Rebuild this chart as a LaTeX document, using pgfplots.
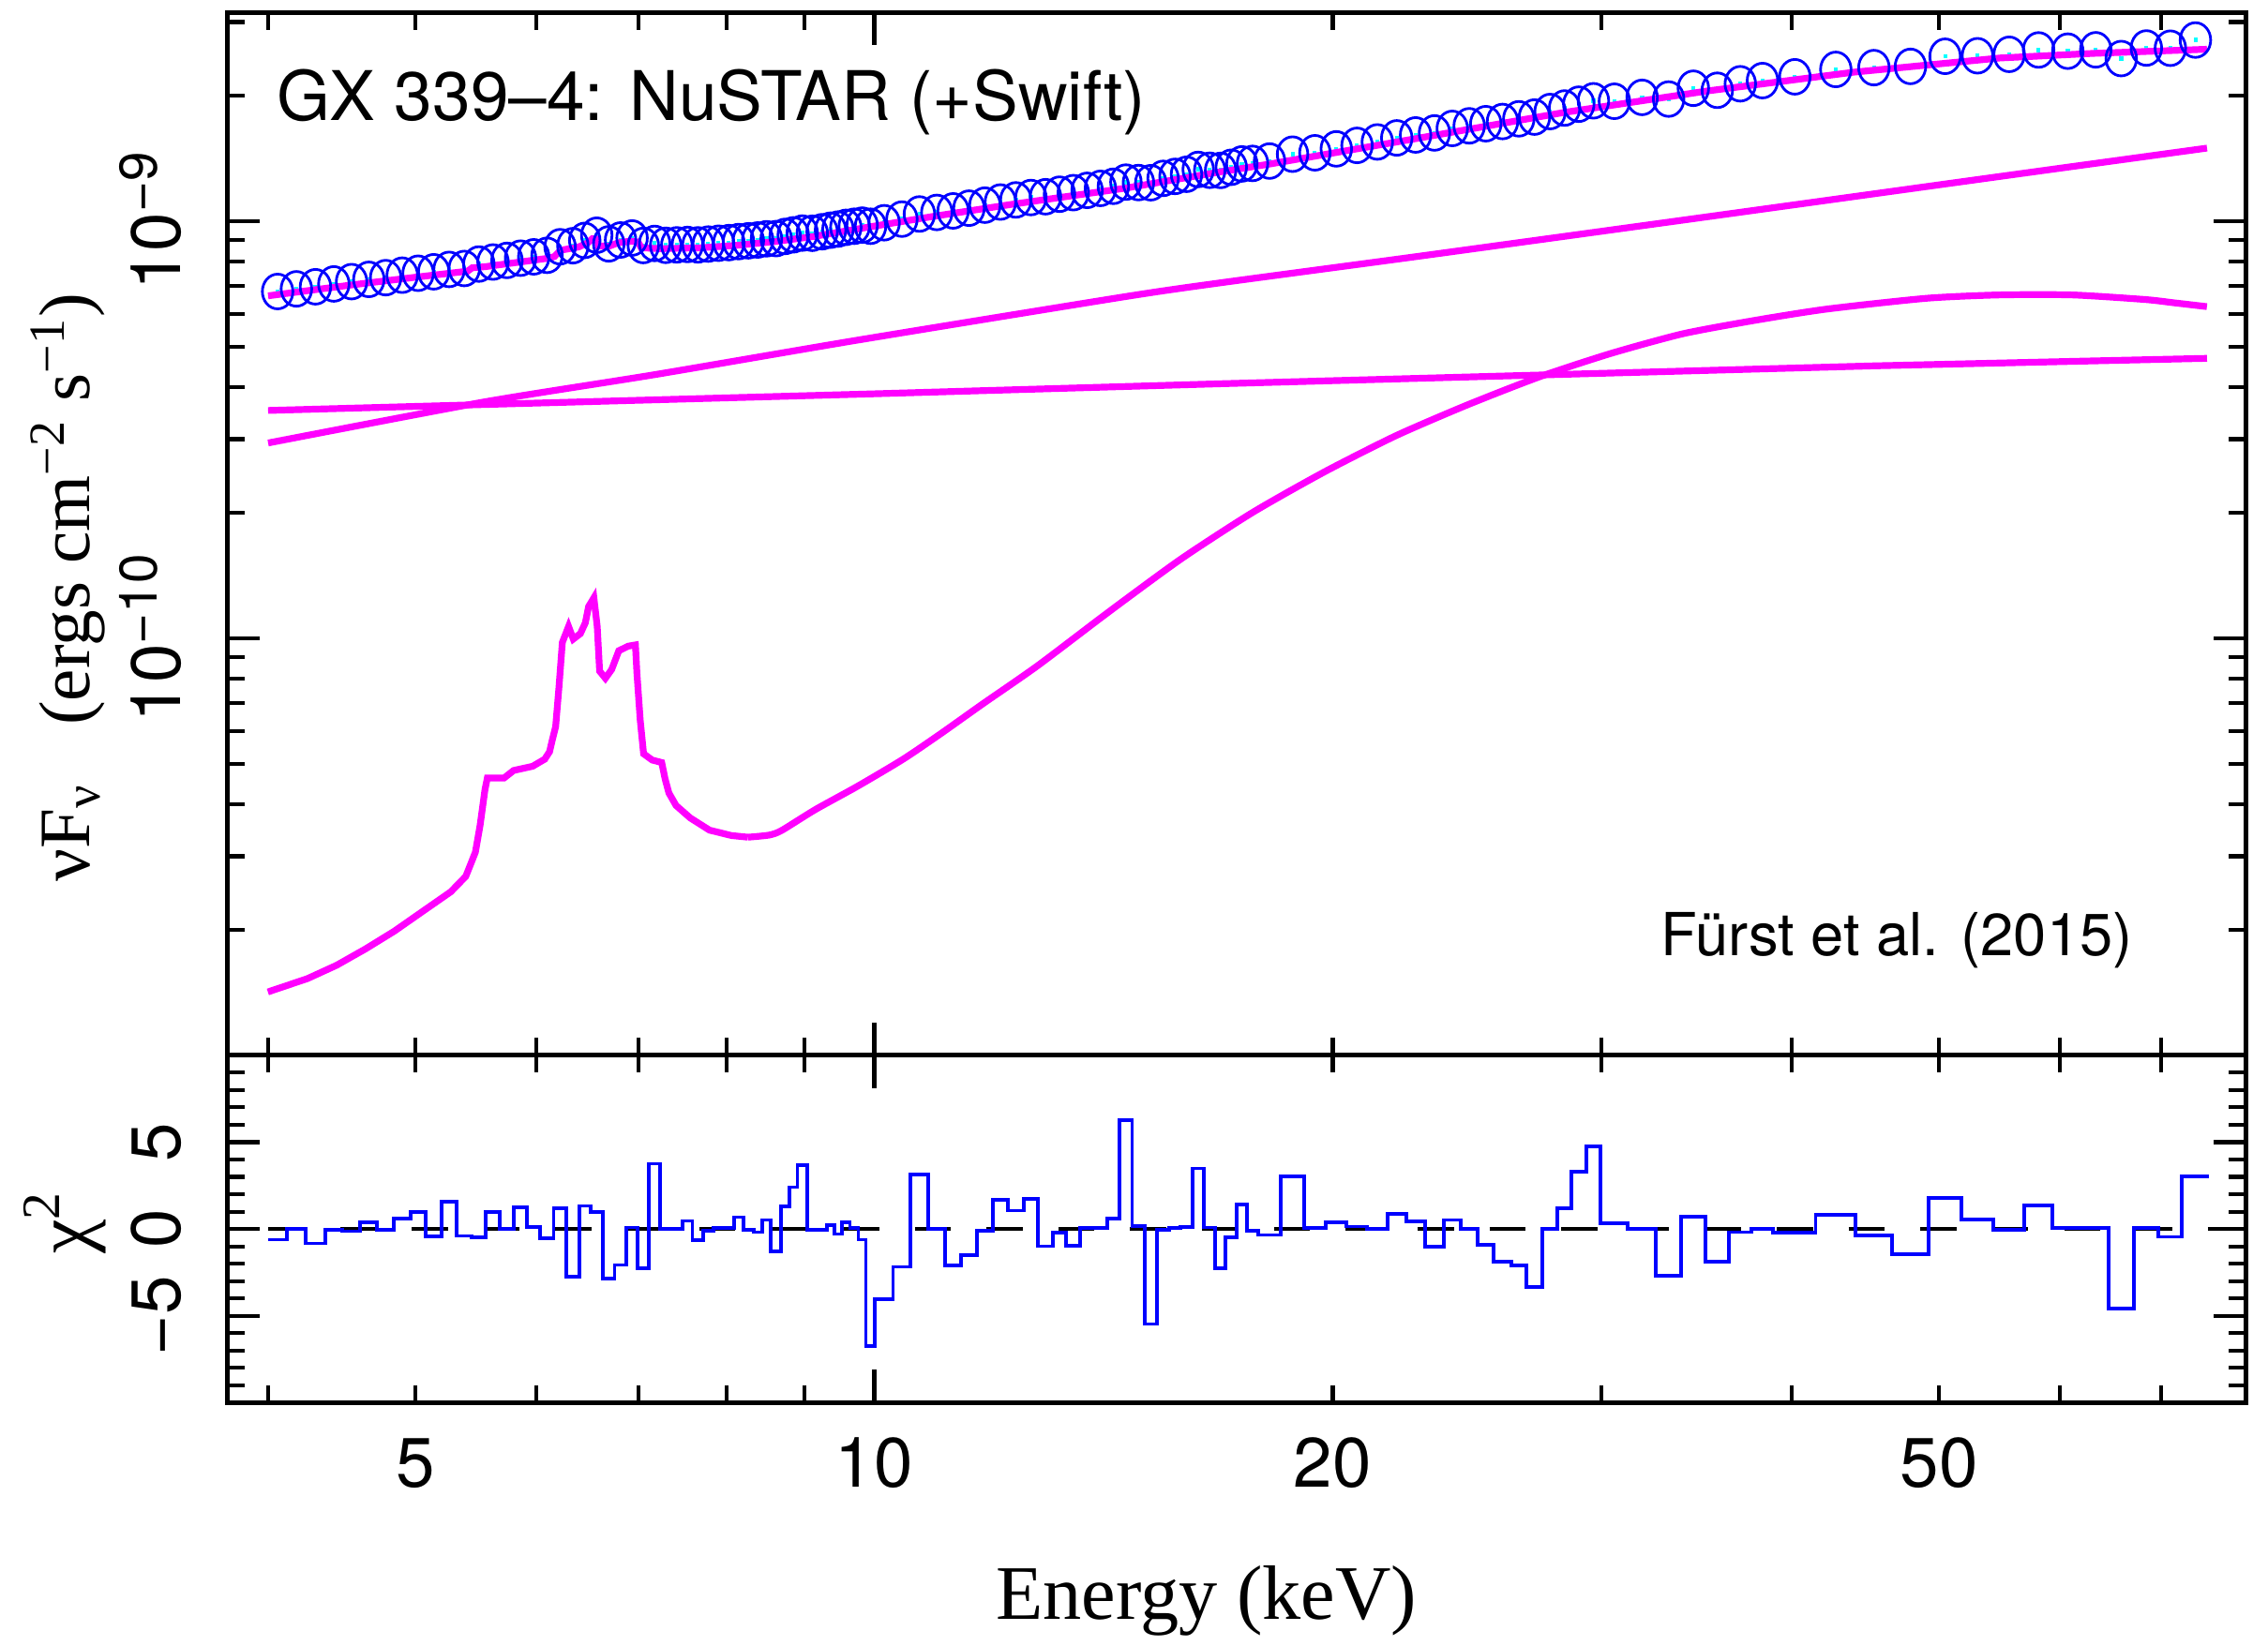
\documentclass[border=0pt]{standalone}
\usepackage{fontspec}
\setmainfont{TeX Gyre Heros}
\newfontfamily\timesfont{Liberation Serif}
\usepackage{pgfplots}
\pgfplotsset{compat=1.18}
\definecolor{mag}{rgb}{1,0,1}
\definecolor{blu}{rgb}{0,0,1}
\definecolor{cya}{rgb}{0,1,1}
\newcommand{\sci}[1]{10\raisebox{5pt}{\fontsize{11}{12}\selectfont −#1}}
\begin{document}
\begin{tikzpicture}
% ---------------- lower panel: residuals ----------------
\begin{axis}[at={(0,0)}, anchor=south west, scale only axis, width=418.8pt, height=72.06pt,
  xmode=log, xmin=3.76, xmax=79.6,
  tick align=inside, major tick length=6.8pt, minor tick length=3.6pt,
  every tick/.style={black, line width=0.8pt},
  axis line style={line width=1pt},
  xtick={10}, minor xtick={4,5,6,7,8,9,20,30,40,50,60,70},
  tick label style={font=\fontsize{14.5}{16}\selectfont},
  yticklabel style={xshift=-9.6pt, rotate=90, anchor=base},
  ymin=-10, ymax=10, ytick={-10,-5,0,5,10}, yticklabels={,−5,0,5,},
  minor y tick num=4,
  xticklabels={},
  extra x ticks={5,10,20,50}, extra x tick labels={5,10,20,50},
  extra x tick style={major tick length=0pt},
  xticklabel style={anchor=base, yshift=-17.5pt},
]
\addplot[black, line width=0.8pt, dash pattern=on 7.5pt off 7.4pt] coordinates {(4,0) (79.6,0)};
\addplot[const plot, blu, line width=0.75pt] coordinates {
(4.000,-0.61) (4.116,0.00) (4.234,-0.83) (4.359,-0.04) (4.476,-0.13) (4.599,0.38) (4.717,-0.04) (4.838,0.58) (4.959,0.99) (5.076,-0.43) (5.199,1.55) (5.319,-0.40) (5.442,-0.50) (5.560,0.99) (5.680,0.00) (5.800,1.24) (5.918,0.13) (6.036,-0.54) (6.159,1.21) (6.281,-2.73) (6.401,1.33) (6.511,0.97) (6.636,-2.86) (6.754,-2.07) (6.875,0.09) (6.994,-2.25) (7.114,3.76) (7.237,0.00) (7.356,0.00) (7.483,0.47) (7.598,-0.65) (7.723,-0.11) (7.841,0.04) (7.966,0.04) (8.088,0.68) (8.202,-0.04) (8.332,-0.18) (8.438,0.52) (8.556,-1.31) (8.687,1.29) (8.792,2.41) (8.904,3.67) (9.034,-0.04) (9.178,-0.04) (9.306,0.22) (9.413,-0.29) (9.520,0.38) (9.640,0.04) (9.763,-0.61) (9.874,-6.73) (10.013,-4.03) (10.289,-2.18) (10.565,3.15) (10.849,0.00) (11.134,-2.12) (11.397,-1.51) (11.682,-0.09) (11.959,1.67) (12.242,1.06) (12.531,1.74) (12.812,-0.99) (13.098,-0.22) (13.366,-0.97) (13.656,0.04) (13.935,0.07) (14.219,0.59) (14.491,6.26) (14.768,0.18) (15.051,-5.47) (15.329,-0.04) (15.622,0.04) (15.891,0.13) (16.175,3.49) (16.464,0.09) (16.747,-2.25) (17.014,-0.50) (17.296,1.40) (17.571,-0.09) (17.863,-0.34) (18.495,3.04) (19.149,0.05) (19.789,0.38) (20.424,0.14) (21.07,0.00) (21.718,0.86) (22.345,0.45) (22.99,-1.03) (23.656,0.52) (24.263,0.00) (24.899,-0.92) (25.51,-1.86) (26.19,-2.10) (26.80,-3.33) (27.46,0.00) (28.10,1.20) (28.69,3.28) (29.33,4.75) (29.99,0.34) (31.24,0.00) (32.61,-2.67) (33.85,0.72) (35.14,-1.86) (36.40,-0.18) (37.67,0.00) (38.93,-0.20) (41.50,0.81) (44.07,-0.36) (46.57,-1.47) (49.22,1.79) (51.72,0.54) (54.29,-0.05) (56.92,1.36) (59.35,0.05) (62.16,0.05) (64.60,-4.57) (67.14,0.05) (69.70,-0.45) (72.19,3.01) (75.19,3.01)};
\end{axis}
% ---------------- upper panel: spectrum ----------------
\begin{axis}[at={(0,72.06pt)}, anchor=south west, scale only axis, width=418.8pt, height=216.33pt,
  xmode=log, xmin=3.76, xmax=79.6,
  tick align=inside, major tick length=6.8pt, minor tick length=3.6pt,
  every tick/.style={black, line width=0.8pt},
  axis line style={line width=1pt},
  xtick={10}, minor xtick={4,5,6,7,8,9,20,30,40,50,60,70},
  tick label style={font=\fontsize{14.5}{16}\selectfont},
  yticklabel style={xshift=-9.6pt, rotate=90, anchor=base},
  ymode=log, ymin=0.01, ymax=3.1623,
  ytick={0.01,0.1,1}, yticklabels={,\sci{10},\sci{9}},
  minor ytick={0.02,0.03,0.04,0.05,0.06,0.07,0.08,0.09,0.2,0.3,0.4,0.5,0.6,0.7,0.8,0.9,2,3},
  xticklabels={},
]
% data (units of 1e-9 erg cm^-2 s^-1)
\addplot[only marks, blu, mark=o, mark size=3.6pt, mark options={xscale=0.88, line width=0.55pt},
  error bars/.cd, y dir=both, y fixed relative=0.012, error mark=none,
  error bar style={cya, line width=0.8pt}] coordinates {
(4.058,0.678) (4.175,0.688) (4.297,0.696) (4.418,0.707) (4.538,0.716) (4.658,0.725) (4.778,0.732) (4.899,0.742) (5.018,0.750) (5.138,0.756) (5.259,0.766) (5.381,0.770) (5.501,0.789) (5.620,0.798) (5.740,0.805) (5.859,0.815) (5.977,0.821) (6.098,0.828) (6.220,0.868) (6.341,0.873) (6.456,0.899) (6.574,0.925) (6.695,0.882) (6.815,0.901) (6.935,0.911) (7.054,0.874) (7.176,0.884) (7.297,0.875) (7.420,0.877) (7.541,0.879) (7.661,0.877) (7.782,0.881) (7.904,0.885) (8.027,0.888) (8.145,0.893) (8.267,0.897) (8.385,0.901) (8.497,0.907) (8.622,0.908) (8.740,0.919) (8.848,0.927) (8.969,0.936) (9.106,0.935) (9.242,0.943) (9.360,0.951) (9.467,0.957) (9.580,0.966) (9.702,0.972) (9.819,0.978) (9.944,0.972) (10.151,0.991) (10.427,1.011) (10.707,1.040) (10.992,1.049) (11.266,1.058) (11.540,1.074) (11.821,1.092) (12.101,1.111) (12.387,1.124) (12.672,1.139) (12.955,1.144) (13.232,1.160) (13.511,1.170) (13.796,1.185) (14.077,1.198) (14.355,1.212) (14.630,1.240) (14.910,1.237) (15.190,1.236) (15.476,1.266) (15.757,1.280) (16.033,1.295) (16.320,1.330) (16.606,1.324) (16.881,1.323) (17.155,1.346) (17.434,1.371) (17.717,1.375) (18.179,1.393) (18.822,1.447) (19.469,1.458) (20.107,1.490) (20.747,1.519) (21.394,1.548) (22.032,1.583) (22.668,1.609) (23.323,1.627) (23.960,1.668) (24.581,1.692) (25.205,1.712) (25.85,1.733) (26.495,1.759) (27.13,1.776) (27.78,1.831) (28.395,1.867) (29.01,1.907) (29.66,1.943) (30.615,1.938) (31.925,1.980) (33.23,1.962) (34.495,2.082) (35.77,2.059) (37.035,2.134) (38.30,2.172) (40.215,2.218) (42.785,2.310) (45.32,2.333) (47.895,2.349) (50.47,2.484) (53.005,2.491) (55.605,2.511) (58.135,2.572) (60.755,2.555) (63.38,2.574) (65.87,2.453) (68.42,2.600) (70.945,2.597) (73.69,2.717)};
% power-law component
\addplot[mag, line width=1.4pt, smooth, tension=0.4] coordinates {
(4.0,0.2938) (5.534,0.3681) (7.178,0.4285) (9.727,0.5176) (14.62,0.6592) (16.87,0.7112) (22.70,0.8222) (35.24,1.0242) (54.83,1.2794) (74.99,1.4962)};
% flat component
\addplot[mag, line width=1.4pt] coordinates {
(4.0,0.3516) (10.0,0.3855) (16.87,0.4074) (45.39,0.4498) (74.99,0.4688)};
% reflection component: line region (histogram-like)
\addplot[mag, line width=1.4pt] coordinates {
(3.999,0.01419) (4.246,0.01528) (4.436,0.01644) (4.634,0.01799) (4.842,0.01986) (5.052,0.02213) (5.272,0.02466) (5.393,0.02685) (5.472,0.03069) (5.511,0.03556) (5.552,0.04335) (5.572,0.04624) (5.715,0.04624) (5.798,0.04819) (5.967,0.04932) (6.077,0.05129) (6.122,0.05346) (6.146,0.05689) (6.178,0.06138) (6.209,0.07621) (6.241,0.09772) (6.300,0.1067) (6.345,0.09954) (6.414,0.1026) (6.462,0.1089) (6.494,0.1191) (6.546,0.1250) (6.579,0.1067) (6.603,0.08337) (6.661,0.08017) (6.724,0.08414) (6.797,0.09333) (6.895,0.09572) (6.970,0.09638) (6.986,0.08260) (7.021,0.06353) (7.057,0.05284) (7.149,0.05105) (7.253,0.05035) (7.290,0.04603) (7.332,0.04256) (7.412,0.03972) (7.574,0.03707) (7.797,0.03467) (8.058,0.03365) (8.262,0.03334)};
% reflection component: continuum
\addplot[mag, line width=1.4pt, smooth, tension=0.4] coordinates {
(8.262,0.03334) (8.529,0.03373) (8.692,0.03459) (9.146,0.03882) (9.750,0.04416) (10.447,0.05129) (11.056,0.05902) (11.776,0.06950) (12.800,0.08590) (14.266,0.1159) (15.902,0.1549) (17.726,0.2004) (19.757,0.2506) (22.018,0.3062) (24.537,0.3631) (27.350,0.4236) (30.474,0.4820) (33.963,0.5370) (37.852,0.5781) (42.189,0.6152) (49.074,0.6531) (54.789,0.6653) (61.165,0.6653) (68.297,0.6486) (71.385,0.6368) (74.989,0.6237)};
% total model
\addplot[mag, line width=1.4pt] coordinates {
(4.0,0.6620) (4.539,0.7031) (5.012,0.7345) (5.408,0.7586) (5.445,0.7727) (5.559,0.7780) (6.109,0.8147) (6.166,0.8222) (6.223,0.8511) (6.397,0.8670) (6.486,0.8872) (6.531,0.9078) (6.577,0.9057) (6.592,0.8710) (6.699,0.8710) (6.792,0.8872) (6.918,0.8954) (6.998,0.8913) (7.031,0.8630) (7.244,0.8590) (7.691,0.8630) (8.128,0.8750) (8.610,0.8933) (9.120,0.9183) (10.0,0.9727) (10.965,1.0280) (12.303,1.0965) (14.622,1.1995) (16.866,1.3122) (18.197,1.3709) (22.699,1.5776) (28.314,1.8197) (35.237,2.0512) (43.954,2.2751) (54.828,2.4604) (63.096,2.5235) (74.989,2.5823)};
\node[anchor=base west, inner sep=0pt, font=\fontsize{14.2}{16}\selectfont] at (rel axis cs:0.0241,0.8965) {GX 339–4: NuSTAR (+Swift)};
\node[anchor=base east, inner sep=0pt, font=\fontsize{12.3}{14}\selectfont] at (rel axis cs:0.9441,0.0952) {Fürst et al. (2015)};
\end{axis}
% axis labels
\node[rotate=90, font=\timesfont\fontsize{15}{17}\selectfont] at (-33pt,169.2pt) {νF\textsubscript{ν}\hspace{0.8em}(ergs cm\textsuperscript{−2} s\textsuperscript{−1})};
\node[rotate=90, font=\timesfont\fontsize{16}{18}\selectfont] at (-33.6pt,37.5pt) {χ\textsuperscript{2}};
\node[anchor=base, font=\timesfont\fontsize{16}{18}\selectfont] at (203.1pt,-45pt) {Energy (keV)};
\pgfresetboundingbox
\path[use as bounding box] (-47.1pt,-50.4pt) rectangle (423.3pt,291.0pt);
\end{tikzpicture}
\end{document}
